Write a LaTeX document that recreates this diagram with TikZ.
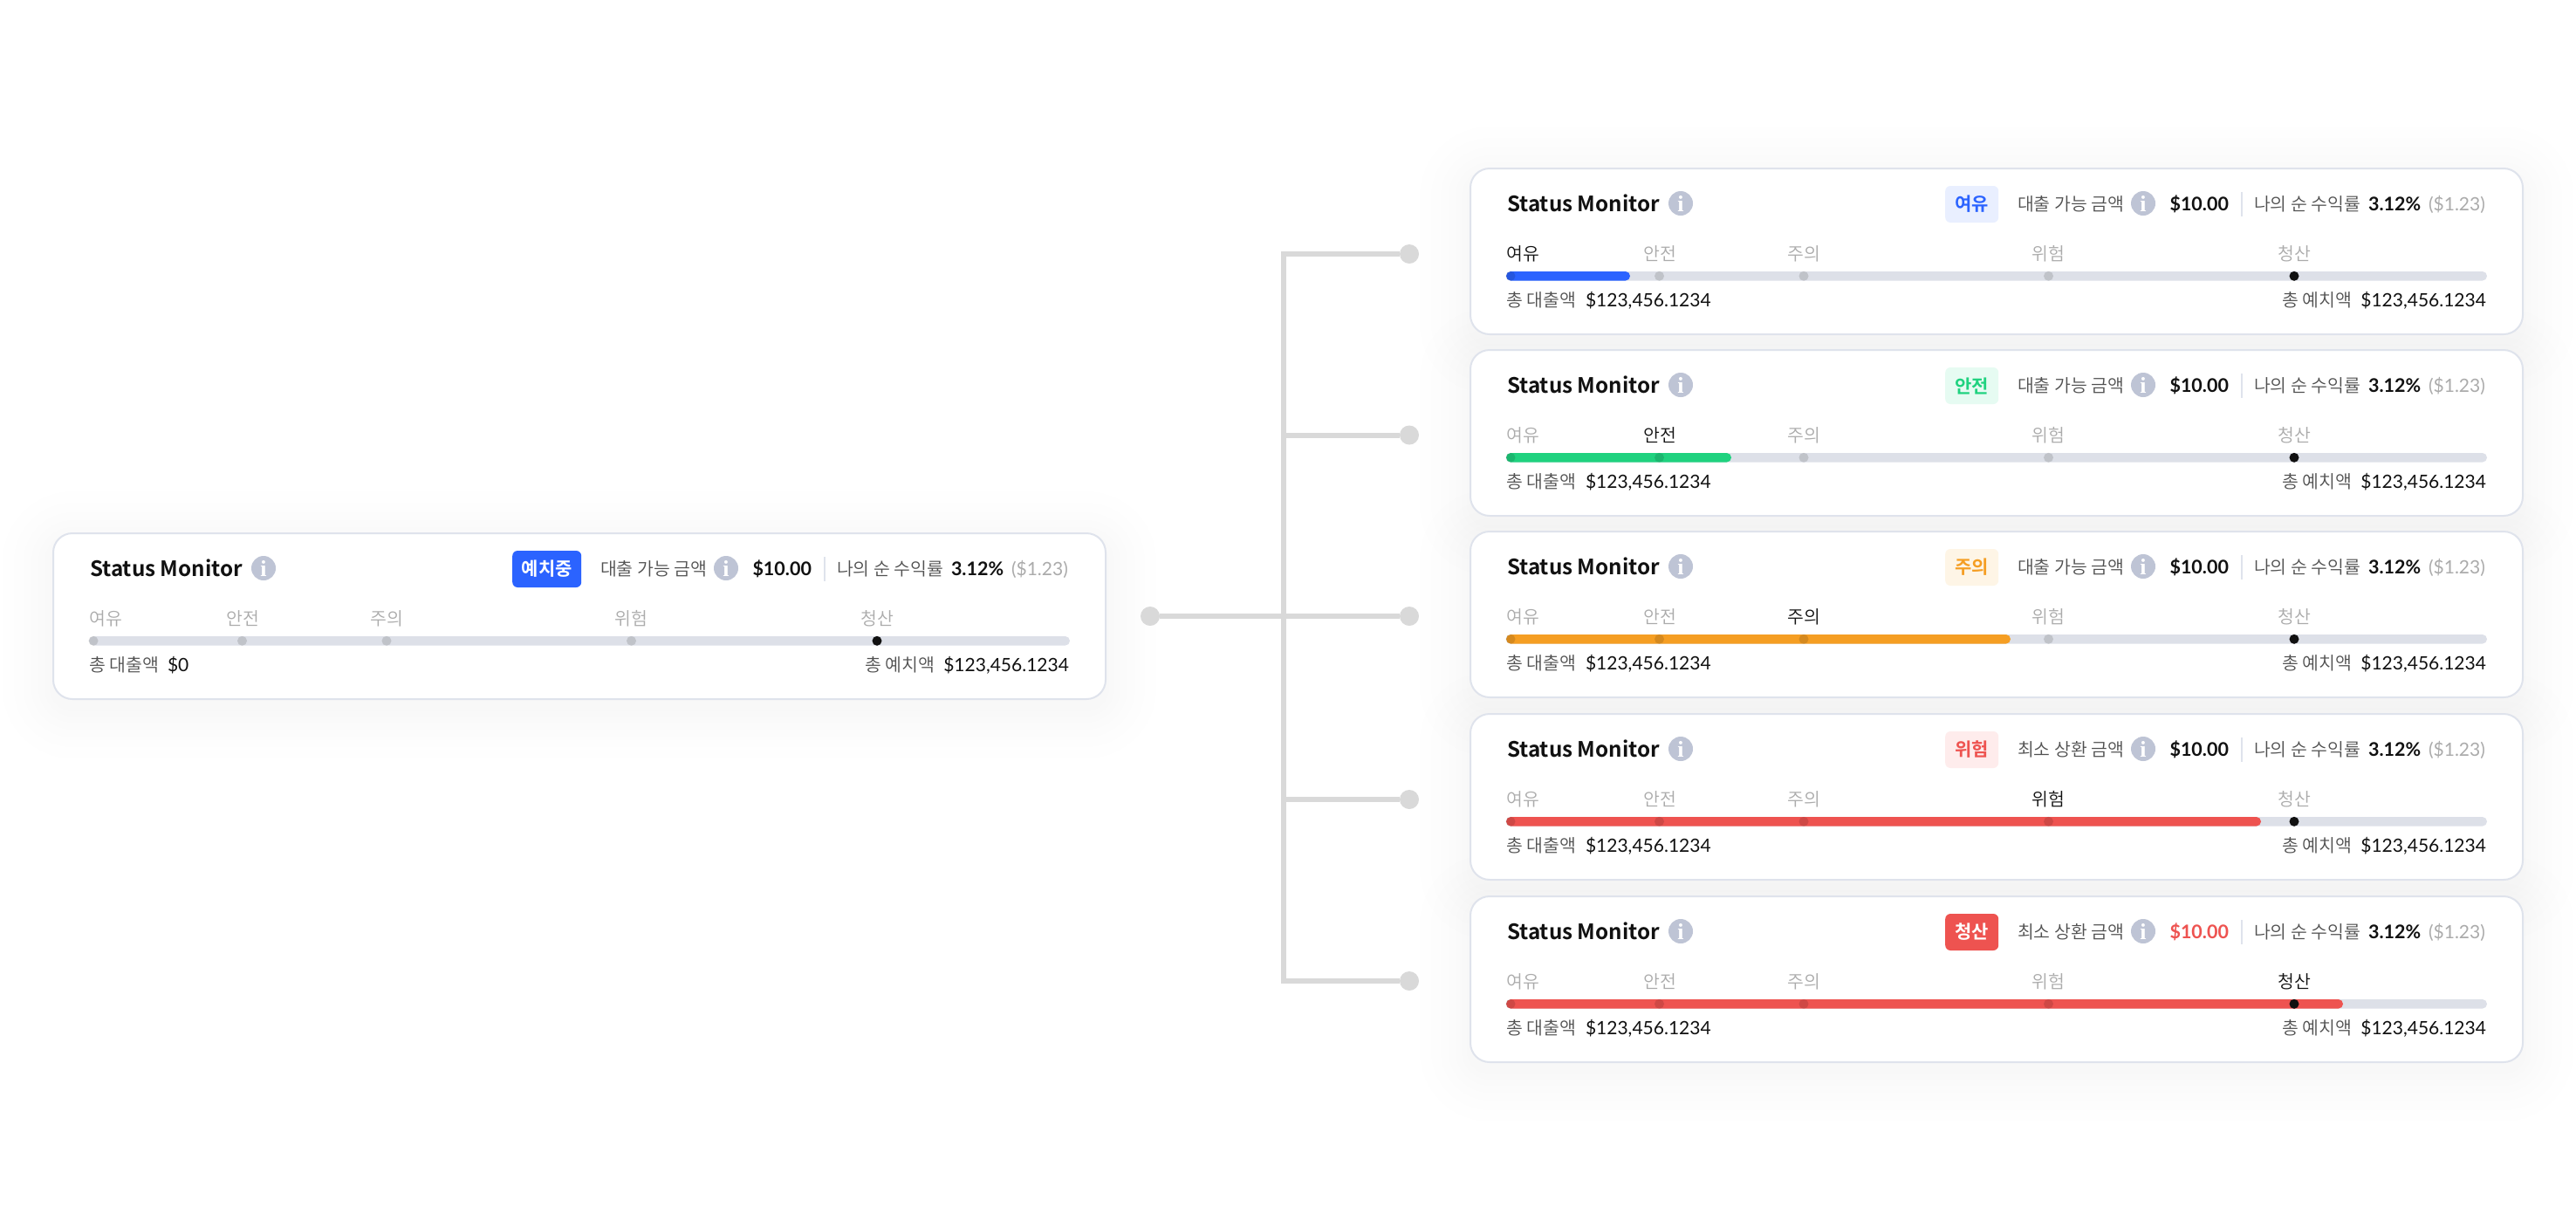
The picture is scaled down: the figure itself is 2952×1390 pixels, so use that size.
\documentclass[tikz,border=0pt]{standalone}
\usepackage{fontspec}
\setmainfont{Lato}
\newfontfamily\krfont{Noto Sans CJK KR DemiLight}
\newfontfamily\krtitle{Noto Sans CJK KR Bold}
\newfontfamily\krbadge{Noto Sans CJK KR Bold}
\newfontfamily\ifont{Liberation Serif}
\definecolor{cborder}{HTML}{DFE3EC}
\definecolor{cbar}{HTML}{DDE0E8}
\definecolor{cinfo}{HTML}{BEC4D5}
\definecolor{cconn}{HTML}{D9D9D9}
\definecolor{cblue}{HTML}{2B63FF}
\definecolor{cbluel}{HTML}{E9EFFF}
\definecolor{cgreen}{HTML}{1FD27F}
\definecolor{cgreenl}{HTML}{E6FBF2}
\definecolor{corange}{HTML}{F59E23}
\definecolor{corangel}{HTML}{FEF5E6}
\definecolor{cred}{HTML}{EE5350}
\definecolor{credl}{HTML}{FEECEC}
\definecolor{ctext}{HTML}{505050}
\definecolor{cdark}{HTML}{111111}
\definecolor{cmuted}{HTML}{ABABAB}
\definecolor{cshadow}{HTML}{3A4466}
\newcommand{\fs}[1]{\fontsize{#1}{#1}\selectfont}
\tikzset{
  cardbox/.style={draw=cborder,line width=2pt,fill=white,rounded corners=22pt},
  lab/.style={inner sep=0pt,outer sep=0pt,anchor=base west},
  labr/.style={lab,anchor=base east},
  labc/.style={lab,anchor=base},
  kr/.style={font=\krfont\fs{20.5},text=ctext},
  val/.style={font=\fs{21},text=cdark},
  valb/.style={font=\bfseries\fs{21.5},text=cdark},
  titletext/.style={font=\krtitle\fs{24.2},text=cdark},
  infoc/.style={circle,fill=cinfo,minimum size=28pt,inner sep=0pt,font=\ifont\bfseries\fs{26},text=white},
  badge/.style={rounded corners=6pt,minimum height=42pt,inner sep=0pt,anchor=west,font=\krbadge\fs{21}},
  tick/.style={circle,fill=black,fill opacity=.13,minimum size=11pt,inner sep=0pt},
  tickon/.style={circle,fill=cdark,minimum size=11pt,inner sep=0pt},
  stagelab/.style={labc,font=\krfont\fs{20.5},text=cmuted},
  stageon/.style={text=cdark},
  stage1/.style={},stage2/.style={},stage3/.style={},stage4/.style={},stage5/.style={},
  conn/.style={draw=cconn,line width=6pt},
  port/.style={circle,fill=cconn,minimum size=22pt,inner sep=0pt},
}
\newcommand{\cardshadow}[2]{%
  \foreach \d in {4,10,17,25,34,45,58}{
    \pgfmathsetmacro{\rr}{22+\d}
    \fill[cshadow,opacity=.005,rounded corners=\rr pt]
      (#1-\d,#2+10-\d) rectangle (#1+1206+\d,#2+10+190+\d);
  }}
% #1 prefix #2 x #3 y #4 active stage #5 bar end #6 bar colour #7 amount label #8 amount colour #9 loan
\newcommand{\cardbody}[9]{%
\begin{scope}[shift={(#2,#3)},name prefix=#1-]
  \tikzset{stage#4/.style={stageon}}
  \node[cardbox,minimum width=1206pt,minimum height=190pt,anchor=north west] (box) at (-1,-1) {};
  \node[lab,titletext] (title) at (42,49) {Status Monitor};
  \node[infoc] (tinfo) at (241,40) {i};
  \node[badge,fill=\badgefill,text=\badgetext,minimum width=\badgewidth pt] (badge) at (\badgex,41) {\badgelabel};
  \node[lab,kr] (amtlab) at (627,48.5) {#7};
  \node[infoc] (ainfo) at (771,40) {i};
  \node[lab,valb,text=#8] (amt) at (801.5,48.5) {\$10.00};
  \coordinate (septop) at (884,27);
  \coordinate (sepbot) at (884,55);
  \draw[cborder,line width=1.5pt] (septop) -- (sepbot);
  \node[lab,kr] (yieldlab) at (898,48.5) {나의 순 수익률};
  \node[lab,valb] (yield) at (1029,48.5) {3.12\%};
  \node[lab,val,text=cmuted] (yieldv) at (1098,48.5) {(\$1.23)};
  \node[stagelab,stage1] (s1) at (60,105) {여유};
  \node[stagelab,stage2] (s2) at (217,105) {안전};
  \node[stagelab,stage3] (s3) at (382.5,105) {주의};
  \node[stagelab,stage4] (s4) at (662.5,105) {위험};
  \node[stagelab,stage5] (s5) at (944,105) {청산};
  \fill[cbar,rounded corners=5.3pt] (41,118) rectangle (1165,128.6);
  \ifdim #5pt>0pt \fill[#6,rounded corners=5.3pt] (41,118) rectangle (#5,128.6);\fi
  \node[tick] (t1) at (46,123.3) {};
  \node[tick] (t2) at (216.5,123.3) {};
  \node[tick] (t3) at (382,123.3) {};
  \node[tick] (t4) at (662.5,123.3) {};
  \node[tickon] (t5) at (944,123.3) {};
  \node[lab,kr] (loanlab) at (41,158) {총 대출액};
  \node[lab,val] (loan) at (\loanx,158.5) {#9};
  \node[labr,val] (dep) at (1164,158.5) {\$123,456.1234};
  \node[labr,kr] (deplab) at (1010.5,158) {총 예치액};
\end{scope}}
\begin{document}
\begin{tikzpicture}[x=1pt,y=-1pt]
\useasboundingbox (0,0) rectangle (2952,1390);
\fill[white] (0,0) rectangle (2952,1390);
\cardshadow{61}{611}
\cardshadow{1685}{193}
\cardshadow{1685}{401}
\cardshadow{1685}{609}
\cardshadow{1685}{818}
\cardshadow{1685}{1027}
\def\badgefill{cblue}\def\badgetext{white}\def\badgelabel{예치중}\def\badgewidth{79}\def\badgex{526}\def\loanx{131}
\cardbody{c0}{61}{611}{0}{0}{cblue}{대출 가능 금액}{cdark}{\$0}
\def\badgewidth{61}\def\badgex{544}\def\loanx{132}
\def\badgefill{cbluel}\def\badgetext{cblue}\def\badgelabel{여유}
\cardbody{c1}{1685}{193}{1}{183}{cblue}{대출 가능 금액}{cdark}{\$123,456.1234}
\def\badgefill{cgreenl}\def\badgetext{cgreen}\def\badgelabel{안전}
\cardbody{c2}{1685}{401}{2}{299}{cgreen}{대출 가능 금액}{cdark}{\$123,456.1234}
\def\badgefill{corangel}\def\badgetext{corange}\def\badgelabel{주의}
\cardbody{c3}{1685}{609}{3}{619}{corange}{대출 가능 금액}{cdark}{\$123,456.1234}
\def\badgefill{credl}\def\badgetext{cred}\def\badgelabel{위험}
\cardbody{c4}{1685}{818}{4}{906}{cred}{최소 상환 금액}{cdark}{\$123,456.1234}
\def\badgefill{cred}\def\badgetext{white}\def\badgelabel{청산}
\cardbody{c5}{1685}{1027}{5}{1000}{cred}{최소 상환 금액}{cred}{\$123,456.1234}
\node[port] (src) at (1318,706) {};
\node[port] (p1) at (1615,291) {};
\node[port] (p2) at (1615,498.5) {};
\node[port] (p3) at (1615,706) {};
\node[port] (p4) at (1615,916) {};
\node[port] (p5) at (1615,1124) {};
\coordinate (trunktop) at (1471,291);
\coordinate (trunk) at (1471,706);
\draw[conn] (src) -- (p3);
\draw[conn] (p1) -- (trunktop) |- (p5);
\draw[conn] (trunk |- p2) -- (p2);
\draw[conn] (trunk |- p4) -- (p4);
\end{tikzpicture}
\end{document}
